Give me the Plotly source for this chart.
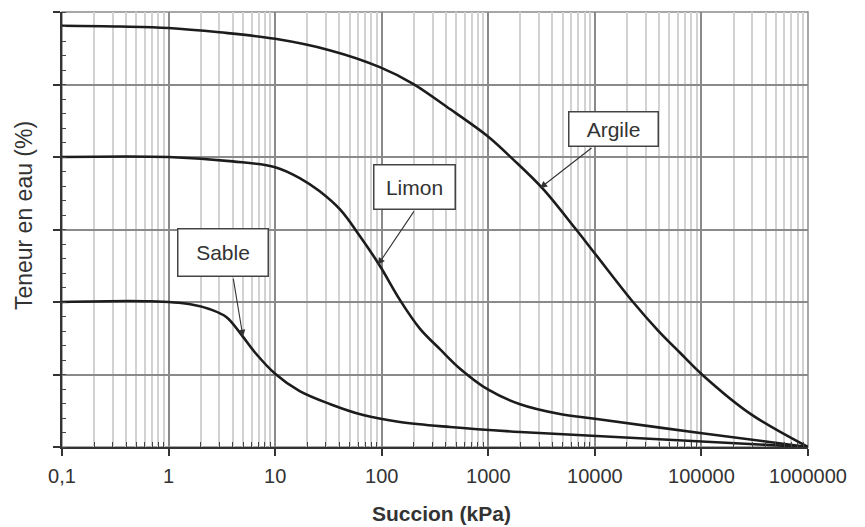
import math
import plotly.graph_objects as go

# ---- data ----
argile_suction = [0.1, 0.35, 1, 3, 10, 33, 96, 197, 410, 1000, 1700, 3260, 6500, 10000,
                  22800, 39000, 63000, 103000, 286000, 1000000]
argile_teneur = [58.1, 58.0, 57.8, 57.2, 56.3, 54.7, 52.4, 50.1, 46.9, 42.8, 39.7, 35.6,
                 30.2, 26.7, 20.0, 16.1, 13.0, 9.9, 4.6, 0.0]

limon_suction = [0.1, 1, 4, 10, 17, 26, 41, 63, 96, 148, 229, 352, 543, 1000, 1990,
                 4700, 10000, 97000, 1000000]
limon_teneur = [40.0, 40.0, 39.4, 38.6, 37.1, 35.3, 32.7, 29.0, 25.0, 20.3, 16.3, 13.5,
                10.8, 7.9, 5.9, 4.55, 3.9, 1.93, 0.0]

sable_suction = [0.1, 0.67, 1.6, 2.45, 3.5, 4.7, 6.5, 10, 17, 33, 67, 148, 437, 1990,
                 1000000]
sable_teneur = [20.0, 20.1, 19.7, 19.0, 17.9, 15.7, 13.0, 10.1, 7.7, 5.9, 4.4, 3.45,
                2.76, 2.07, 0.0]

series_names = ["Argile", "Limon", "Sable"]

x_tickvals = [0.1, 1, 10, 100, 1000, 10000, 100000, 1000000]
x_ticktext = ["0,1", "1", "10", "100", "1000", "10000", "100000", "1000000"]

# label boxes: (name, centre suction, centre teneur, box w, box h)
label_boxes = [("Sable", 3.21, 26.8, 89, 46),
               ("Limon", 201, 35.8, 80, 43),
               ("Argile", 14800, 43.8, 88, 33)]
# arrows: (head suction, head teneur, tail suction, tail teneur)
label_arrows = [(4.99, 15.2, 4.03, 23.4),
                (92, 25.1, 205, 32.7),
                (3055, 35.7, 9610, 41.4)]

# ---- figure ----
fig = go.Figure()
line_style = dict(color="#1c1c1c", width=2.6, shape="spline", smoothing=1.0)
for name, xs, ys in zip(series_names,
                        [argile_suction, limon_suction, sable_suction],
                        [argile_teneur, limon_teneur, sable_teneur]):
    fig.add_trace(go.Scatter(x=xs, y=ys, mode="lines", name=name, line=line_style,
                             showlegend=False, hoverinfo="x+y+name"))

minor_x = [m * 10 ** k for k in range(-1, 6) for m in range(2, 10)]

font_main = "Liberation Sans, Arial, sans-serif"

fig.update_xaxes(
    type="log", range=[-1, 6],
    tickmode="array", tickvals=x_tickvals, ticktext=x_ticktext,
    ticks="outside", ticklen=7, tickwidth=1.5, tickcolor="#333",
    ticklabelstandoff=3,
    tickfont=dict(family=font_main, size=20, color="#333"),
    showgrid=True, gridcolor="#8a8a8a", gridwidth=1.5,
    minor=dict(tickvals=minor_x, ticks="inside", ticklen=5, tickwidth=1.2,
               tickcolor="#444", showgrid=True, gridcolor="#d2d2d2", gridwidth=1.5),
    showline=True, linecolor="#333", linewidth=2, zeroline=False,
    automargin=False,
)
fig.update_yaxes(
    range=[0, 60], dtick=10, tick0=0,
    ticks="outside", ticklen=7, tickwidth=1.5, tickcolor="#333",
    showticklabels=False,
    showgrid=True, gridcolor="#8a8a8a", gridwidth=1.5,
    minor=dict(dtick=2, ticks="inside", ticklen=4, tickwidth=1.2, tickcolor="#444",
               showgrid=False),
    showline=True, linecolor="#333", linewidth=2, zeroline=False,
    automargin=False,
)

# axis titles placed as text
fig.add_annotation(text="<b>Succion (kPa)</b>", xref="paper", yref="paper",
                   x=0.509, y=-0.1805, xanchor="center", yanchor="bottom",
                   showarrow=False, borderpad=0,
                   font=dict(family=font_main, size=21, color="#333"))
fig.add_annotation(text="Teneur en eau (%)", xref="paper", yref="paper",
                   x=-0.051, y=0.533, xanchor="center", yanchor="middle",
                   textangle=-90, showarrow=False,
                   font=dict(family=font_main, size=23, color="#333"))

# frame on top/right
fig.add_shape(type="rect", xref="paper", yref="paper", x0=0, x1=1, y0=0, y1=1,
              line=dict(color="#8a8a8a", width=1.5), layer="below")

for (hx, hy, tx, ty) in label_arrows:
    fig.add_annotation(x=math.log10(hx), y=hy, ax=math.log10(tx), ay=ty,
                       xref="x", yref="y", axref="x", ayref="y", text="",
                       showarrow=True, arrowhead=2, arrowsize=1.3, arrowwidth=1.1,
                       arrowcolor="#333", standoff=0)

for (name, cx, cy, w, h) in label_boxes:
    fig.add_annotation(x=math.log10(cx), y=cy, xref="x", yref="y", text=name,
                       showarrow=False, width=w, height=h, borderpad=0,
                       bordercolor="#444", borderwidth=1.5, bgcolor="white",
                       align="center", valign="middle",
                       font=dict(family=font_main, size=21, color="#333"))

fig.update_layout(
    width=865, height=527,
    margin=dict(l=62, r=57, t=12, b=80),
    paper_bgcolor="white", plot_bgcolor="white",
    showlegend=False,
)

fig.write_html("out.html")
